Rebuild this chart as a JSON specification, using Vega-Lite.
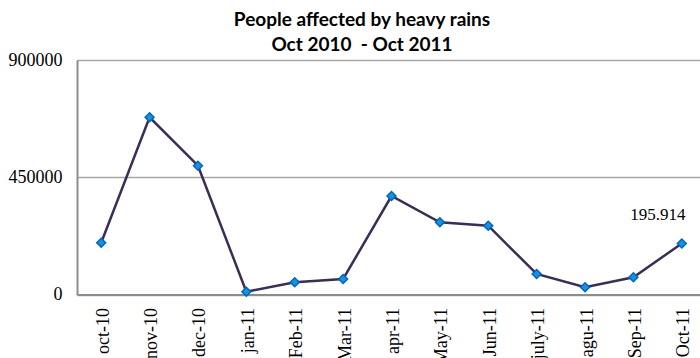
{
  "$schema": "https://vega.github.io/schema/vega-lite/v6.json",
  "autosize": "none",
  "padding": {"left": 77, "top": 60, "right": 0, "bottom": 63.5},
  "width": 629,
  "height": 234.5,
  "background": "white",
  "title": {
    "text": ["People affected by heavy rains", "Oct 2010\u00a0 - Oct 2011"],
    "font": "Lato",
    "fontSize": 19,
    "fontWeight": "bold",
    "lineHeight": 25,
    "anchor": "middle",
    "dx": -29.5,
    "offset": -4,
    "color": "#000000"
  },
  "data": {
    "values": [
      {"month": "oct-10", "people": 198800, "label": ""},
      {"month": "nov-10", "people": 680100, "label": ""},
      {"month": "dec-10", "people": 494300, "label": ""},
      {"month": "jan-11", "people": 10700, "label": ""},
      {"month": "Feb-11", "people": 46800, "label": ""},
      {"month": "Mar-11", "people": 59500, "label": ""},
      {"month": "apr-11", "people": 378000, "label": ""},
      {"month": "May-11", "people": 277100, "label": ""},
      {"month": "Jun-11", "people": 264000, "label": ""},
      {"month": "july-11", "people": 78700, "label": ""},
      {"month": "agu-11", "people": 27600, "label": ""},
      {"month": "Sep-11", "people": 66000, "label": ""},
      {"month": "Oct-11", "people": 195914, "label": "195.914"}
    ]
  },
  "config": {
    "view": {"stroke": null},
    "axis": {
      "labelFont": "Liberation Serif",
      "labelColor": "#000000",
      "domainColor": "#8c8c8c",
      "domainWidth": 2,
      "gridColor": "#a6a6a6",
      "gridWidth": 1.5,
      "ticks": false,
      "tickSize": 0,
      "title": null
    }
  },
  "encoding": {
    "x": {
      "field": "month",
      "type": "ordinal",
      "sort": null,
      "scale": {"type": "point", "padding": 0.5},
      "axis": {
        "labelAngle": -90,
        "labelFontSize": 18,
        "labelPadding": 13,
        "labelOffset": 2,
        "labelOverlap": false,
        "grid": false,
        "title": null
      }
    },
    "y": {
      "field": "people",
      "type": "quantitative",
      "scale": {"domain": [0, 900000], "nice": false},
      "axis": {
        "values": [0, 450000, 900000],
        "format": "d",
        "labelFontSize": 18,
        "labelPadding": 15,
        "grid": true,
        "title": null
      }
    }
  },
  "layer": [
    {
      "mark": {"type": "line", "color": "#3b2d55", "strokeWidth": 2.5}
    },
    {
      "mark": {
        "type": "point",
        "shape": "diamond",
        "filled": true,
        "size": 80,
        "fill": "#1a8ee0",
        "stroke": "#0068b8",
        "strokeWidth": 1.5,
        "opacity": 1
      }
    },
    {
      "mark": {
        "type": "text",
        "font": "Liberation Serif",
        "fontSize": 17,
        "color": "#000000",
        "dx": -24,
        "dy": -28
      },
      "encoding": {"text": {"field": "label"}}
    }
  ]
}
